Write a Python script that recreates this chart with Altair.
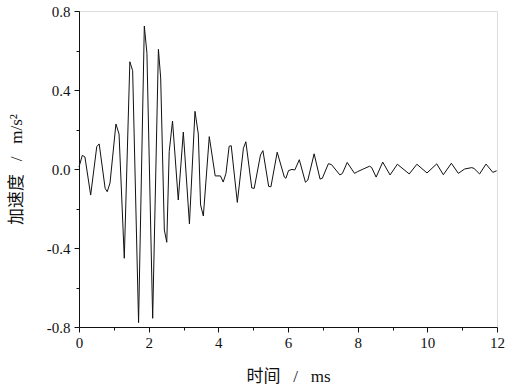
import altair as alt
import pandas as pd

time_ms = [0.0, 0.095, 0.17, 0.335, 0.51, 0.58, 0.75, 0.81, 0.89, 1.06, 1.15, 1.30, 1.46, 1.54,
           1.71, 1.875, 1.95, 2.115, 2.28, 2.345, 2.45, 2.52, 2.59, 2.685, 2.85, 2.995, 3.17,
           3.33, 3.425, 3.49, 3.57, 3.74, 3.91, 4.06, 4.14, 4.22, 4.31, 4.37, 4.545, 4.72,
           4.79, 4.96, 5.03, 5.21, 5.28, 5.445, 5.51, 5.69, 5.895, 5.94, 6.015, 6.115, 6.195,
           6.325, 6.50, 6.57, 6.75, 6.92, 6.985, 7.16, 7.25, 7.49, 7.56, 7.70, 7.91, 7.99,
           8.16, 8.34, 8.40, 8.53, 8.72, 8.93, 9.14, 9.48, 9.70, 9.99, 10.27, 10.46, 10.69,
           10.89, 11.07, 11.275, 11.34, 11.50, 11.685, 11.88, 11.99]
accel = [0.01, 0.069, 0.061, -0.132, 0.113, 0.127, -0.098, -0.115, -0.071, 0.228, 0.177, -0.452,
         0.543, 0.498, -0.778, 0.724, 0.586, -0.756, 0.606, 0.461, -0.309, -0.371, 0.088, 0.243,
         -0.157, 0.187, -0.278, 0.292, 0.177, -0.182, -0.238, 0.164, -0.035, -0.035, -0.066,
         -0.022, 0.115, 0.118, -0.169, 0.105, 0.138, -0.096, -0.098, 0.071, 0.093, -0.088,
         -0.090, 0.085, -0.041, -0.047, -0.008, -0.002, -0.005, 0.047, -0.067, -0.056, 0.077,
         -0.051, -0.047, 0.027, 0.022, -0.030, -0.023, 0.033, -0.022, -0.014, 0.0, 0.014,
         0.008, -0.041, 0.035, -0.030, 0.024, -0.025, 0.024, -0.020, 0.026, -0.029, 0.029,
         -0.022, 0.0, 0.007, 0.003, -0.025, 0.025, -0.017, -0.009]

x_ticks = list(range(0, 13))
y_ticks = [-0.8, -0.6, -0.4, -0.2, 0.0, 0.2, 0.4, 0.6, 0.8]

df = pd.DataFrame({"t": time_ms, "a": accel})

font_num = "Liberation Serif"
font_title = "Liberation Serif, Noto Sans CJK SC, serif"
sp = "\u2002 "

axis_cfg = dict(
    labelFont=font_num, labelFontSize=15, labelColor="#111111",
    titleFont=font_title, titleFontSize=17, titleFontWeight="normal",
    titleColor="#111111",
    domainColor="#111111", tickColor="#111111", grid=False,
    labelFlush=False, labelOverlap=False,
)

chart = alt.Chart(df).mark_line(color="#111111", strokeWidth=1).encode(
    x=alt.X("t:Q",
            scale=alt.Scale(domain=[0, 12], nice=False, zero=False),
            axis=alt.Axis(
                values=x_ticks,
                title="时间" + sp + "/" + sp + "ms",
                labelExpr="datum.value % 2 == 0 ? format(datum.value, 'd') : ''",
                tickSize={"condition": {"test": "datum.value % 2 != 0", "value": 3}, "value": 5},
                labelPadding=3,
                titleX=209, titleY=49, titleBaseline="middle", titleAlign="center",
            )),
    y=alt.Y("a:Q",
            scale=alt.Scale(domain=[-0.8, 0.8], nice=False, zero=False),
            axis=alt.Axis(
                values=y_ticks,
                title="加速度" + sp + "/" + sp + "m/s²",
                labelExpr="round(datum.value*10) % 4 == 0 ? (datum.value < -0.01 ? '-' : '') + format(abs(datum.value), '.1f') : ''",
                tickSize={"condition": {"test": "round(datum.value*10) % 4 != 0", "value": 3}, "value": 5},
                labelPadding=4,
                titleX=-63, titleY=158, titleBaseline="middle", titleAlign="center",
                titleAngle=270,
            )),
).properties(
    width=418, height=316,
    autosize=alt.AutoSizeParams(type="none"),
    padding={"left": 79, "top": 11, "right": 21, "bottom": 57},
).configure_view(stroke=None).configure(background="white").configure_axis(**axis_cfg)

chart.save("out.html", embed_options={"renderer": "svg", "actions": False})
